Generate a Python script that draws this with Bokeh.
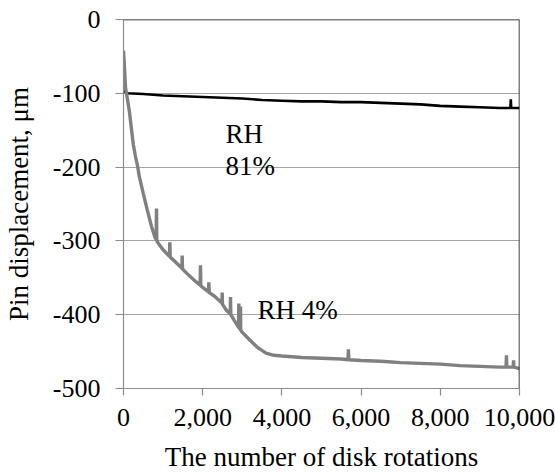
from bokeh.plotting import figure
from bokeh.models import FixedTicker, Span, Range1d, ColumnDataSource
from bokeh.core.properties import value
from bokeh.embed import file_html
from bokeh.resources import INLINE

# ---- data ----
rh81_x = [0, 15, 25, 100, 500, 1000, 1500, 2000, 2500, 3000, 3500, 4000, 4500,
          5000, 5500, 6000, 6500, 7000, 7500, 8000, 8500, 9000, 9500, 9770,
          9780, 9790, 10000]
rh81_y = [-45, -70, -98, -100, -101, -103, -104, -105, -106, -107, -109, -110,
          -111, -111, -112, -112, -113, -114, -115, -117, -118, -119, -120,
          -120, -108, -120, -120]

rh4_x = [0, 20, 50, 100, 150, 200, 250, 300, 350, 400, 500, 600, 700, 800,
         825, 833, 841, 900, 1000, 1160, 1170, 1180, 1300, 1475, 1482, 1490,
         1600, 1800, 1935, 1944, 1953, 2000, 2145, 2155, 2165, 2300, 2485,
         2492, 2500, 2600, 2695, 2702, 2710, 2800, 2905, 2912, 2920, 2950,
         2955, 2960, 3000, 3200, 3400, 3600, 3800, 4000, 4500, 5000, 5500,
         5670, 5680, 5690, 6000, 6500, 7000, 7500, 8000, 8500, 9000, 9500,
         9660, 9670, 9680, 9840, 9850, 9860, 10000]
rh4_y = [-42, -60, -92, -108, -125, -148, -170, -185, -197, -213, -236, -258,
         -279, -296, -298, -256, -300, -305, -312, -321, -302, -322, -328,
         -337, -320, -338, -344, -354, -360, -333, -361, -363, -369, -356,
         -370, -375, -384, -370, -386, -394, -399, -376, -400, -408, -417,
         -385, -418, -420, -389, -421, -424, -435, -445, -452, -455, -456,
         -458, -459, -460, -461, -447, -461, -462, -463, -465, -466, -467,
         -469, -470, -471, -471, -455, -471, -471, -462, -471, -473]

x_ticks = [0, 2000, 4000, 6000, 8000, 10000]
x_tick_labels = ["0", "2,000", "4,000", "6,000", "8,000", "10,000"]
y_ticks = [-500, -400, -300, -200, -100, 0]
y_tick_labels = ["-500", "-400", "-300", "-200", "-100", "0"]

annot_text = ["RH", "81%", "RH 4%"]
annot_x = [2576, 2576, 3384]
annot_y = [-155, -198, -394]

x_title = "The number of disk rotations"
y_title = "Pin displacement, \u03bcm"

# ---- styles ----
FONT = "Liberation Serif"
AXIS_GRAY = "#8c8c8c"
GRID_GRAY = "#a6a6a6"

p = figure(width=555, height=474,
           x_range=Range1d(0, 10000), y_range=Range1d(-500, 0),
           output_backend="svg", toolbar_location=None,
           min_border_left=123, min_border_right=36,
           min_border_top=19, min_border_bottom=86)

p.outline_line_color = None
p.background_fill_color = "white"
p.border_fill_color = "white"

p.xgrid.grid_line_color = None
p.ygrid.grid_line_color = GRID_GRAY
p.ygrid.grid_line_width = 1.2

# axes
p.xaxis.ticker = FixedTicker(ticks=x_ticks)
p.xaxis.major_label_overrides = {t: l for t, l in zip(x_ticks, x_tick_labels)}
p.yaxis.ticker = FixedTicker(ticks=y_ticks)
p.yaxis.major_label_overrides = {t: l for t, l in zip(y_ticks, y_tick_labels)}
p.ygrid.ticker = FixedTicker(ticks=y_ticks)

for ax in (p.xaxis, p.yaxis):
    ax.axis_line_color = AXIS_GRAY
    ax.axis_line_width = 1.2
    ax.major_tick_line_color = AXIS_GRAY
    ax.major_tick_line_width = 1.2
    ax.major_tick_in = 0
    ax.minor_tick_line_color = None
    ax.major_label_text_font = FONT
    ax.major_label_text_font_size = "26px"
    ax.major_label_text_color = "black"
    ax.axis_label_text_font = FONT
    ax.axis_label_text_font_size = "27px"
    ax.axis_label_text_font_style = "normal"
    ax.axis_label_text_color = "black"

p.xaxis.major_tick_out = 7
p.xaxis.major_label_standoff = 13
p.xaxis.axis_label = x_title
p.xaxis.axis_label_standoff = 13

p.yaxis.major_tick_out = 8
p.yaxis.major_label_standoff = 15
p.yaxis.axis_label = y_title
p.yaxis.axis_label_standoff = 16

# black frame lines on top and right
p.add_layout(Span(location=0, dimension="width", line_color="black", line_width=1.5))
p.add_layout(Span(location=10000, dimension="height", line_color="black", line_width=1.5))

# series
p.line(rh81_x, rh81_y, line_color="black", line_width=2.6)
p.line(rh4_x, rh4_y, line_color="#808080", line_width=3.4)

# annotations
src = ColumnDataSource(dict(x=annot_x, y=annot_y, t=annot_text))
p.text(x="x", y="y", text="t", source=src, text_font=value(FONT),
       text_font_size="27px", text_color="black",
       text_align="left", text_baseline="alphabetic")

open("out.html", "w").write(file_html(p, INLINE))
